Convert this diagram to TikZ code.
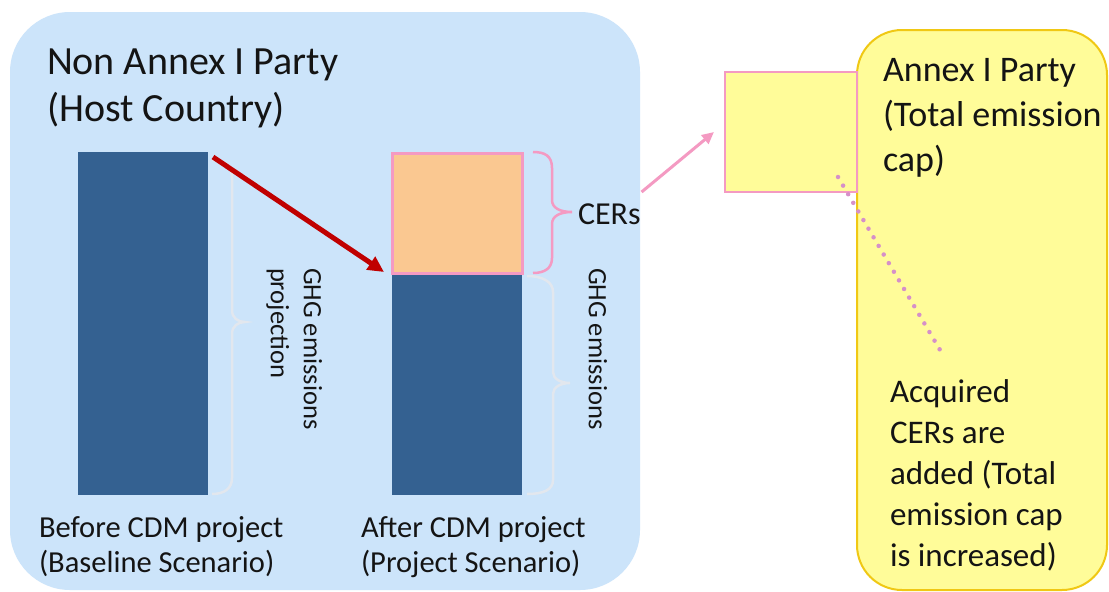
\documentclass[tikz,border=0pt]{standalone}
\usepackage{fontspec}
\setmainfont{Carlito}
\usetikzlibrary{arrows.meta}
\definecolor{bgblue}{RGB}{204,228,250}
\definecolor{barblue}{RGB}{52,97,145}
\definecolor{peach}{RGB}{250,200,145}
\definecolor{pinkc}{RGB}{244,154,194}
\definecolor{yel}{RGB}{255,252,153}
\definecolor{gold}{RGB}{240,200,20}
\definecolor{darkred}{RGB}{192,0,0}
\definecolor{dotpink}{RGB}{214,144,200}
\definecolor{faint}{RGB}{226,231,238}
\definecolor{txt}{RGB}{20,20,20}
\tikzset{
  lbl/.style={text=txt, inner sep=0pt, outer sep=0pt, align=left},
  barbox/.style={fill=barblue, draw=none, inner sep=0pt, outer sep=0pt, minimum width=130pt},
  cerbox/.style={fill=peach, draw=pinkc, line width=3pt, inner sep=0pt, outer sep=0pt, minimum width=130pt, minimum height=120pt},
  capboxstyle/.style={fill=yel, draw=pinkc, line width=2.5pt, inner sep=0pt, outer sep=0pt, minimum width=132pt, minimum height=120pt},
  bracepink/.style={draw=pinkc, line width=2.5pt},
  bracefaint/.style={draw=faint, line width=2.5pt},
}
\begin{document}
\begin{tikzpicture}[x=1pt,y=-1pt]
\useasboundingbox (0,0) rectangle (1109,592);
\fill[white] (0,0) rectangle (1109,592);
% party regions
\fill[bgblue, rounded corners=60pt] (10,12) rectangle (640,590);
\draw[fill=yel, draw=gold, line width=2pt, rounded corners=45pt] (857,30) rectangle (1107,590);
% bars
\node[barbox, minimum height=343pt, anchor=north west] (lbar) at (78,152) {};
\node[barbox, minimum height=222pt, anchor=north west] (rbar) at (392,273) {};
\node[cerbox, anchor=south west] (cer) at (392,273) {};
\node[capboxstyle, anchor=north west] (capbox) at (725,72) {};
% braces
\draw[bracepink] (533,152) .. controls (545,152) and (552,156) .. (552,168) -- (552,200)
  .. controls (552,208) and (560,212) .. (572,212)
  .. controls (560,212) and (552,216) .. (552,224) -- (552,258)
  .. controls (552,268) and (545,273) .. (533,273);
\draw[bracefaint] (212,160) .. controls (225,160) and (232,166) .. (232,178) -- (232,310)
  .. controls (232,318) and (238,322) .. (245,322)
  .. controls (238,322) and (232,326) .. (232,334) -- (232,478)
  .. controls (232,488) and (225,494) .. (212,494);
\draw[bracefaint] (527,276) .. controls (543,276) and (553,282) .. (553,292) -- (553,372)
  .. controls (553,379) and (561,383) .. (570,383)
  .. controls (561,383) and (553,387) .. (553,394) -- (553,480)
  .. controls (553,490) and (543,494) .. (527,494);
% texts
\node[lbl, anchor=north west, font=\fontsize{40}{47}\selectfont] (host) at (47,49) {Non Annex I Party\\(Host Country)};
\node[lbl, anchor=north west, font=\fontsize{36}{45}\selectfont] (annex) at (883,58) {Annex I Party\\(Total emission\\cap)};
\node[lbl, anchor=north west, font=\fontsize{33}{41}\selectfont] (acq) at (890,380) {Acquired\\CERs are\\added (Total\\emission cap\\is increased)};
\node[lbl, anchor=north west, font=\fontsize{30.5}{35}\selectfont] (before) at (39,517) {Before CDM project\\(Baseline Scenario)};
\node[lbl, anchor=north west, font=\fontsize{30.5}{35}\selectfont] (after) at (361,517) {After CDM project\\(Project Scenario)};
\node[lbl, anchor=west, font=\fontsize{32}{38}\selectfont] (cers) at (578,214) {CERs};
\node[lbl, rotate=-90, anchor=north west, font=\fontsize{26.5}{33}\selectfont] (ghgl) at (322,268) {GHG emissions\\projection};
\node[lbl, rotate=-90, anchor=north west, font=\fontsize{26.5}{33}\selectfont] (ghgr) at (607,268) {GHG emissions};
% connectors
\draw[darkred, line width=5pt, -{Triangle[length=16pt,width=15pt]}] ([shift={(5,5)}]lbar.north east) -- ([shift={(-8,-1)}]cer.south west);
\draw[pinkc, line width=3pt, -{Triangle[length=12pt,width=11pt]}] ([shift={(1,-22)}]cers.east) -- ([xshift=-11pt]capbox.west);
\draw[dotpink, line width=4.5pt, line cap=round, dash pattern=on 0pt off 10pt] ([shift={(-19,-15)}]capbox.south east) -- (943,355);
\end{tikzpicture}
\end{document}
